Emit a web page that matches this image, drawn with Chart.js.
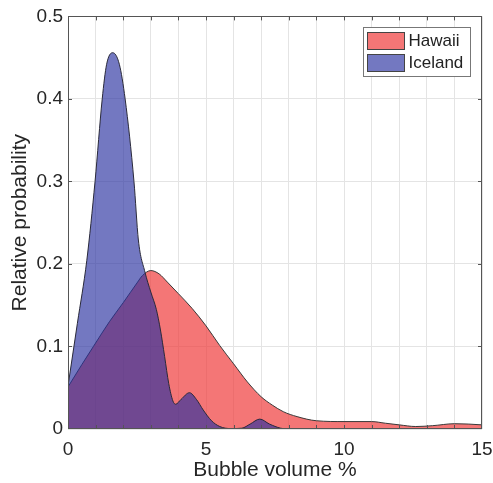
<!DOCTYPE html>
<html>
<head>
<meta charset="utf-8">
<script src="https://cdn.jsdelivr.net/npm/chart.js@4.4.1/dist/chart.umd.min.js"></script>
<style>
  html, body { margin: 0; padding: 0; background: #fff; }
  #wrap { width: 493px; height: 483px; }
</style>
</head>
<body>
<div id="wrap"><canvas id="chart" width="493" height="483"></canvas></div>
<script>
// values (bubble volume %, relative probability)
const hawaiiX = [0, 0.5, 0.92, 1.5, 2.0, 2.5, 2.7, 3.0, 3.3, 3.6, 4.0, 4.5, 5.0, 5.5, 6.0, 6.5, 7.0, 7.4, 7.8, 8.3, 9.0, 10, 11, 11.5, 12, 12.6, 13.2, 14, 14.5, 15];
const hawaiiY = [0.051, 0.078, 0.100, 0.130, 0.153, 0.177, 0.186, 0.192, 0.188, 0.178, 0.164, 0.146, 0.125, 0.101, 0.079, 0.057, 0.039, 0.029, 0.021, 0.015, 0.010, 0.009, 0.009, 0.007, 0.005, 0.003, 0.004, 0.0064, 0.006, 0.005];
const icelandX = [0, 0.34, 0.68, 0.98, 1.24, 1.40, 1.62, 1.86, 2.07, 2.39, 2.55, 2.79, 3.0, 3.2, 3.35, 3.5, 3.65, 3.8, 3.9, 4.1, 4.4, 4.65, 4.9, 5.2, 5.5, 5.9, 6.3, 6.6, 6.95, 7.3, 7.7, 8.0, 15];
const icelandY = [0.052, 0.128, 0.204, 0.300, 0.400, 0.442, 0.456, 0.442, 0.400, 0.300, 0.229, 0.190, 0.166, 0.145, 0.120, 0.088, 0.055, 0.034, 0.030, 0.036, 0.044, 0.036, 0.023, 0.010, 0.003, 0.0005, 0.001, 0.006, 0.012, 0.006, 0.001, 0, 0];
const xTickLabels = [0, 5, 10, 15];
const seriesNames = ['Hawaii', 'Iceland'];

const hawaiiFill = 'rgba(240,60,60,0.7)';
const icelandFill = 'rgba(40,47,160,0.65)';
const fontName = '"Liberation Sans", Arial, Helvetica, sans-serif';

const toPts = (xs, ys) => xs.map((x, i) => ({ x: x, y: ys[i] }));

// box round the axes, inward ticks and the legend, as in the matlab figure
const boxPlugin = {
    id: 'boxPlugin',
    afterDraw(chart) {
        const { ctx, chartArea: a, scales } = chart;
        ctx.save();
        ctx.strokeStyle = '#555';
        ctx.lineWidth = 1;
        ctx.strokeRect(Math.round(a.left) + 0.5, Math.round(a.top) + 0.5, Math.round(a.right - a.left) - 1, Math.round(a.bottom - a.top) - 1);
        ctx.beginPath();
        for (let v = 1; v < 15; v++) {
            const px = Math.round(scales.x.getPixelForValue(v)) + 0.5;
            ctx.moveTo(px, a.bottom); ctx.lineTo(px, a.bottom - 4);
            ctx.moveTo(px, a.top); ctx.lineTo(px, a.top + 4);
        }
        for (let v = 1; v < 5; v++) {
            const py = Math.round(scales.y.getPixelForValue(v / 10)) + 0.5;
            ctx.moveTo(a.left, py); ctx.lineTo(a.left + 4, py);
            ctx.moveTo(a.right, py); ctx.lineTo(a.right - 4, py);
        }
        ctx.stroke();

        // legend
        const lx = 363.5, ly = 27.5, lw = 107, lh = 49;
        ctx.fillStyle = '#fff';
        ctx.fillRect(lx, ly, lw, lh);
        ctx.strokeStyle = '#777';
        ctx.strokeRect(lx, ly, lw, lh);
        [hawaiiFill, icelandFill].forEach((c, i) => {
            const sy = ly + 5 + i * 22;
            ctx.fillStyle = c;
            ctx.fillRect(lx + 4, sy, 37, 17);
            ctx.strokeStyle = '#444';
            ctx.strokeRect(lx + 4, sy, 37, 17);
            ctx.fillStyle = '#222';
            ctx.font = '17px ' + fontName;
            ctx.textBaseline = 'middle';
            ctx.textAlign = 'left';
            ctx.fillText(seriesNames[i], lx + 45, sy + 9);
        });
        ctx.restore();
    }
};

new Chart(document.getElementById('chart').getContext('2d'), {
    type: 'line',
    data: {
        datasets: [
            { label: seriesNames[0], data: toPts(hawaiiX, hawaiiY), backgroundColor: hawaiiFill, borderColor: '#3a3a3a', borderWidth: 1, fill: 'origin', pointRadius: 0, cubicInterpolationMode: 'monotone', order: 2 },
            { label: seriesNames[1], data: toPts(icelandX, icelandY), backgroundColor: icelandFill, borderColor: '#2a2a3a', borderWidth: 1, fill: 'origin', pointRadius: 0, cubicInterpolationMode: 'monotone', order: 1 }
        ]
    },
    options: {
        responsive: false,
        animation: false,
        layout: { padding: { top: 15, right: 11, left: 0, bottom: 0 } },
        plugins: { legend: { display: false }, tooltip: { enabled: false } },
        scales: {
            x: {
                type: 'linear', min: 0, max: 15,
                afterFit: (s) => { s.height = 54; s.paddingLeft = 0; s.paddingRight = 0; },
                grid: { color: '#e4e4e4', drawTicks: false },
                border: { display: false },
                ticks: {
                    stepSize: 1, autoSkip: false, maxRotation: 0, padding: 9,
                    color: '#262626', font: { family: fontName, size: 19 },
                    callback: (v) => xTickLabels.includes(v) ? String(v) : ''
                },
                title: { display: true, text: 'Bubble volume %', color: '#262626', font: { family: fontName, size: 21 }, padding: { top: 0, bottom: 0 } }
            },
            y: {
                min: 0, max: 0.5,
                afterFit: (s) => { s.width = 68; },
                grid: { color: '#e4e4e4', drawTicks: false },
                border: { display: false },
                ticks: {
                    stepSize: 0.1, padding: 5,
                    color: '#262626', font: { family: fontName, size: 19 },
                    callback: (v) => String(+v.toFixed(1))
                },
                title: { display: true, text: 'Relative probability', color: '#262626', font: { family: fontName, size: 21 }, padding: { top: 8, bottom: 4 } }
            }
        }
    },
    plugins: [boxPlugin]
});
</script>
</body>
</html>
